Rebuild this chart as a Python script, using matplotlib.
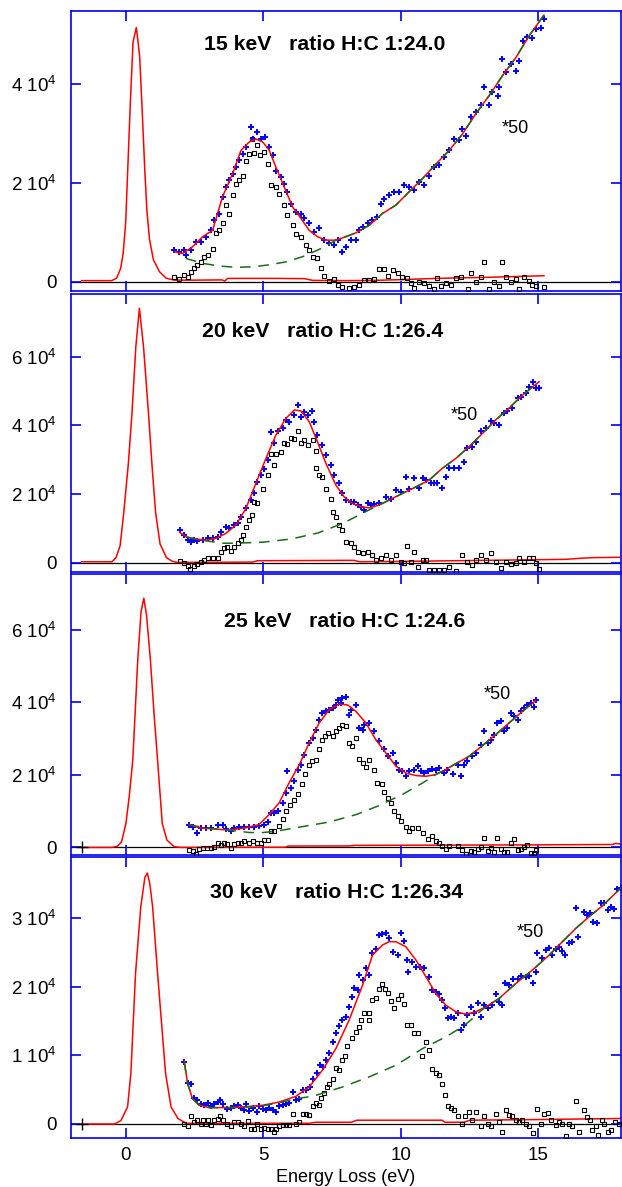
import numpy as np
import matplotlib
matplotlib.use('Agg')
import matplotlib.pyplot as plt
from matplotlib.ticker import FuncFormatter

plt.rcParams['font.family'] = ['Liberation Sans', 'DejaVu Sans']
plt.rcParams['mathtext.fontset'] = 'custom'
plt.rcParams['mathtext.rm'] = 'Liberation Sans'
plt.rcParams['mathtext.it'] = 'Liberation Sans:italic'
plt.rcParams['mathtext.bf'] = 'Liberation Sans:bold'

# ---------------- 15 keV ----------------
p15_title = '15 keV   ratio H:C 1:24.0'
p15_blue_x = [1.77, 1.95, 2.13, 2.19, 2.37, 2.55, 2.74, 2.92, 3.1, 3.22, 3.4, 3.52, 3.64, 3.77, 3.89, 4.0,
              4.13, 4.27, 4.39, 4.55, 4.61, 4.79, 4.92, 5.07, 5.22, 5.34, 5.46, 5.64, 5.76, 5.88, 6.0, 6.19,
              6.37, 6.49, 6.67, 6.85, 7.03, 7.22, 7.4, 7.58, 7.7, 7.86, 8.0, 8.18, 8.37, 8.49, 8.61, 8.79,
              8.97, 9.15, 9.27, 9.39, 9.58, 9.76, 9.94, 10.12, 10.3, 10.48, 10.67, 10.85, 11.03, 11.21,
              11.39, 11.58, 11.76, 11.94, 12.12, 12.24, 12.36, 12.54, 12.73, 12.91, 13.03, 13.21, 13.33,
              13.52, 13.57, 13.67, 13.81, 13.99, 14.18, 14.3, 14.44, 14.6, 14.78, 14.9, 15.08, 15.2]
p15_blue_y = [6500, 6060, 6400, 5400, 6500, 8080, 8080, 9100, 10400, 12450, 13800, 17160, 19200, 20500,
              21900, 23200, 24600, 25900, 27250, 31400, 28900, 30300, 28900, 29300, 27250, 25600, 22500,
              21200, 19850, 18200, 15800, 14100, 13800, 12800, 11800, 10100, 10800, 8400, 7740, 7400, 8400,
              6060, 7070, 8400, 8400, 10400, 11100, 11800, 12450, 13100, 15800, 16800, 17500, 18200, 18200,
              19500, 19200, 18500, 20200, 19500, 21500, 23200, 23550, 25200, 26600, 28900, 28600, 31000,
              29600, 33300, 34300, 35700, 39500, 35700, 38400, 37700, 39400, 45100, 42400, 44100, 42700,
              44800, 48800, 49500, 49300, 51100, 51300, 53200]
p15_fit_x = [1.77, 2.07, 2.43, 2.8, 3.16, 3.52, 3.89, 4.19, 4.49, 4.73, 4.98, 5.22, 5.46, 5.76, 6.07, 6.37,
             6.67, 6.97, 7.28, 7.64, 8.0, 8.37, 8.85, 9.33, 9.82, 10.3, 10.79, 11.27, 11.76, 12.24, 12.72,
             13.21, 13.69, 14.18, 14.66, 15.2]
p15_fit_y = [6060, 5700, 7070, 9100, 10400, 17200, 21900, 26600, 28300, 28900, 28300, 26600, 23200, 19200,
             15100, 12800, 10400, 9100, 8400, 8400, 9100, 9900, 11400, 13800, 15500, 18200, 20900, 23800,
             26600, 29900, 34000, 37700, 41700, 45400, 49800, 54000]
p15_bg_x = [2.19, 2.8, 3.4, 4.01, 4.61, 5.22, 5.82, 6.43, 7.1, 7.64, 8.0, 8.37, 8.85, 9.33, 9.82, 10.3,
            10.79, 11.27, 11.76, 12.24, 12.72, 13.21, 13.69, 14.18, 14.66, 15.2]
p15_bg_y = [4700, 3700, 3160, 2900, 3000, 3400, 4000, 5050, 6700, 8400, 9100, 9900, 11400, 13800, 15500,
            18200, 20900, 23800, 26600, 29900, 34000, 37700, 41700, 45400, 49800, 54000]
p15_diff_x = [1.77, 1.95, 2.13, 2.25, 2.37, 2.49, 2.61, 2.74, 2.86, 2.98, 3.16, 3.28, 3.4, 3.52, 3.64, 3.77,
              3.89, 4.01, 4.13, 4.27, 4.39, 4.49, 4.59, 4.67, 4.79, 4.88, 5.04, 5.16, 5.28, 5.46, 5.58,
              5.76, 5.88, 6.07, 6.19, 6.37, 6.55, 6.67, 6.79, 6.97, 7.1, 7.22, 7.4, 7.58, 7.7, 7.88, 8.12,
              8.3, 8.49, 8.67, 8.85, 9.03, 9.22, 9.4, 9.52, 9.7, 9.88, 10.06, 10.24, 10.36, 10.48, 10.67,
              10.85, 11.03, 11.21, 11.33, 11.45, 11.63, 11.82, 12.0, 12.18, 12.43, 12.54, 12.73, 12.91,
              13.03, 13.21, 13.39, 13.57, 13.67, 13.81, 13.99, 14.18, 14.3, 14.48, 14.66, 14.78, 14.9, 15.2]
p15_diff_y = [1000, 470, 1350, 1000, 2000, 2700, 3400, 4000, 5000, 5400, 6700, 9760, 10400, 11800, 15500,
              13700, 17500, 19850, 20500, 21500, 24400, 25900, 28900, 26000, 27600, 25600, 26200, 23900,
              19500, 19200, 17800, 15500, 13500, 11400, 9600, 9100, 7400, 6500, 4900, 4700, 2700, 1150,
              200, 470, -670, -1000, -1350, -1150, -670, 340, 340, 470, 2500, 2500, 1150, 2350, 1700, 1000,
              670, -200, -1350, 0, -340, -870, -1550, 670, -870, -340, -670, 670, 1000, -1550, 1700, 0,
              1000, 4000, -1550, 0, -870, 4000, 1000, 0, 470, -1550, 1000, 200, -670, -870, -1000]
p15_red_x = [-1.6, -0.51, -0.33, -0.18, -0.09, 0.0, 0.08, 0.18, 0.27, 0.39, 0.51, 0.6, 0.69, 0.77, 0.87,
             1.01, 1.23, 1.47, 1.77, 2.5, 3.5, 3.6, 3.7, 4.5, 5.5, 6.5, 6.8, 8.0, 9.0, 10.0, 11.0, 12.0,
             13.0, 14.0, 15.2]
p15_red_y = [200, 200, 690, 2700, 5750, 11800, 23300, 37500, 48600, 51500, 45600, 34800, 23300, 14500,
             8450, 4400, 2000, 690, 300, 300, 350, 100, 650, 650, 650, 600, 250, 200, 250, 400, 600, 750,
             850, 1000, 1200]
p15_note = (14.15, 30960)

# ---------------- 20 keV ----------------
p20_title = '20 keV   ratio H:C 1:26.4'
p20_blue_x = [1.97, 2.13, 2.25, 2.37, 2.49, 2.61, 2.8, 2.98, 3.16, 3.34, 3.46, 3.64, 3.77, 3.95, 4.07, 4.19,
              4.37, 4.55, 4.67, 4.79, 4.92, 5.04, 5.16, 5.28, 5.4, 5.52, 5.7, 5.82, 5.94, 6.13, 6.25, 6.37,
              6.49, 6.61, 6.77, 6.85, 6.97, 7.15, 7.28, 7.46, 7.58, 7.76, 7.88, 8.0, 8.18, 8.3, 8.43, 8.55,
              8.67, 8.79, 8.91, 9.03, 9.21, 9.46, 9.64, 9.82, 10.0, 10.18, 10.3, 10.48, 10.67, 10.79, 10.91,
              11.09, 11.21, 11.33, 11.51, 11.63, 11.76, 11.94, 12.12, 12.3, 12.42, 12.6, 12.72, 12.91,
              13.09, 13.27, 13.39, 13.57, 13.75, 13.87, 14.05, 14.24, 14.36, 14.54, 14.66, 14.81, 14.9, 15.02]
p20_blue_y = [9500, 8060, 6600, 6100, 6600, 6300, 6600, 7300, 7300, 7570, 8840, 10500, 10000, 11000, 11500,
              13400, 16000, 18250, 20200, 23600, 25500, 27300, 29900, 38200, 34800, 38400, 39100, 41600,
              41100, 43000, 45900, 42500, 44000, 43000, 44200, 41100, 37200, 34300, 31400, 28500, 25500,
              23100, 20200, 18250, 17800, 17800, 16800, 16300, 15300, 17300, 16800, 17000, 17300, 19200,
              18700, 21200, 20700, 25000, 21500, 24600, 21800, 24600, 24100, 23100, 23100, 23100, 21800,
              25000, 27500, 27500, 27500, 29400, 33300, 33800, 35200, 38400, 39100, 41300, 40600, 40100,
              43500, 44200, 45000, 47900, 48400, 49300, 51300, 52500, 51000, 50800]
p20_fit_x = [1.97, 2.19, 2.55, 2.92, 3.28, 3.64, 4.01, 4.37, 4.73, 5.1, 5.46, 5.82, 6.13, 6.37, 6.67, 6.97,
             7.28, 7.64, 7.94, 8.24, 8.55, 8.85, 9.21, 9.58, 10.06, 10.55, 11.03, 11.51, 12.0, 12.48, 12.97,
             13.45, 13.93, 14.42, 15.02]
p20_fit_y = [8840, 7570, 6900, 6600, 7100, 8540, 11000, 15800, 23100, 30400, 37200, 42000, 44500, 44200,
             41100, 35200, 28900, 22600, 19200, 17300, 16300, 16000, 16800, 18300, 20200, 22100, 24100,
             27500, 30400, 33800, 37700, 41600, 45000, 48800, 52700]
p20_bg_x = [2.2, 2.6, 3.0, 3.5, 4.0, 5.0, 6.0, 7.0, 7.9, 8.7, 9.2, 9.6, 10.06, 10.55, 11.03, 11.51, 12.0,
            12.48, 12.97, 13.45, 13.93, 14.42, 15.02]
p20_bg_y = [7500, 6800, 6300, 5700, 5700, 6000, 6900, 8700, 11500, 14800, 16800, 18300, 20200, 22100, 24100,
            27500, 30400, 33800, 37700, 41600, 45000, 48800, 52700]
p20_diff_x = [1.97, 2.13, 2.25, 2.34, 2.49, 2.61, 2.74, 2.86, 3.01, 3.16, 3.34, 3.46, 3.58, 3.7, 3.83, 3.95,
              4.07, 4.19, 4.27, 4.39, 4.49, 4.59, 4.67, 4.79, 4.98, 5.16, 5.28, 5.4, 5.48, 5.64, 5.76, 5.88,
              6.0, 6.13, 6.25, 6.37, 6.49, 6.61, 6.79, 6.91, 6.93, 7.03, 7.15, 7.28, 7.46, 7.52, 7.64, 7.76,
              7.86, 8.0, 8.18, 8.3, 8.43, 8.61, 8.79, 8.97, 9.09, 9.27, 9.46, 9.64, 9.82, 10.0, 10.12, 10.21,
              10.36, 10.48, 10.61, 10.79, 10.91, 11.03, 11.21, 11.39, 11.57, 11.76, 12.0, 12.24, 12.42,
              12.6, 12.72, 12.91, 13.09, 13.27, 13.45, 13.63, 13.81, 13.99, 14.18, 14.3, 14.48, 14.66,
              14.81, 14.9, 15.02]
p20_diff_y = [580, -200, -870, -1850, -870, -490, 290, 780, 1260, 1260, 1260, 3200, 4200, 4660, 3400, 4660,
              5630, 6600, 8060, 10500, 12400, 13900, 17800, 17300, 21500, 25500, 31600, 28600, 31800, 32300,
              35000, 34500, 36400, 36000, 38400, 34800, 35700, 34300, 35700, 32500, 27500, 25500, 25000,
              21600, 18700, 14900, 13400, 11000, 9500, 6100, 5900, 4660, 3200, 2700, 3200, 2230, 780, 1260,
              2230, 780, 2230, 290, -200, 4950, 290, 3200, -1170, 780, 780, -2140, -2140, -2140, -2140,
              -1170, -2430, 2230, 290, -680, 780, 2230, 780, 2700, 290, -1650, 290, -490, -200, 1260, 290,
              1260, 1260, -200, -1850]
p20_red_x = [-1.6, -0.5, -0.35, -0.2, -0.07, 0.1, 0.23, 0.37, 0.5, 0.65, 0.83, 0.97, 1.09, 1.25, 1.48, 1.7,
             1.9, 4.6, 4.8, 8.3, 8.5, 10.0, 12.0, 14.0, 15.0, 16.0, 16.5, 17.0, 18.0]
p20_red_y = [300, 300, 1500, 5000, 14500, 29000, 43500, 62900, 74100, 62900, 43500, 27000, 14500, 5500,
             1500, 400, 100, 200, 600, 700, 300, 400, 600, 800, 900, 1000, 1300, 1500, 1600]
p20_note = (12.3, 42800)

# ---------------- 25 keV ----------------
p25_title = '25 keV   ratio H:C 1:24.6'
p25_blue_x = [2.31, 2.43, 2.61, 2.74, 2.92, 3.1, 3.34, 3.52, 3.64, 3.83, 3.95, 4.13, 4.31, 4.49, 4.67, 4.85,
              5.04, 5.16, 5.28, 5.4, 5.52, 5.7, 5.82, 5.88, 6.0, 6.13, 6.25, 6.37, 6.49, 6.67, 6.79, 6.91,
              7.03, 7.15, 7.28, 7.4, 7.52, 7.64, 7.7, 7.82, 7.88, 8.0, 8.12, 8.18, 8.37, 8.49, 8.61, 8.67,
              8.85, 9.03, 9.21, 9.39, 9.52, 9.7, 9.82, 9.94, 10.06, 10.18, 10.3, 10.48, 10.61, 10.73, 10.85,
              10.97, 11.15, 11.27, 11.39, 11.57, 11.69, 11.88, 12.06, 12.18, 12.3, 12.42, 12.6, 12.72,
              12.91, 13.03, 13.15, 13.27, 13.39, 13.51, 13.63, 13.75, 13.87, 13.99, 14.11, 14.24, 14.36,
              14.48, 14.6, 14.72, 14.84, 14.9]
p25_blue_y = [6050, 5700, 4030, 5400, 5400, 5400, 6050, 6300, 5100, 4500, 5400, 5700, 5700, 5700, 5700,
              5900, 6300, 7000, 9350, 9350, 10000, 12300, 15000, 21000, 16400, 18250, 21450, 22800, 25600,
              28800, 30200, 32500, 35200, 37000, 37500, 38000, 38400, 39300, 40700, 39800, 41200, 41600,
              36600, 38000, 39300, 32900, 32500, 33800, 34300, 32000, 29250, 27000, 25100, 26000, 23300,
              21450, 21000, 19600, 21000, 21450, 22400, 21000, 20500, 21000, 21600, 21450, 21900, 20500,
              21450, 20100, 22600, 19600, 22800, 23750, 25100, 26000, 28300, 32000, 28800, 29700, 31100,
              34300, 34800, 32000, 32900, 37000, 36100, 35200, 37500, 38400, 39300, 39800, 38700, 40700]
p25_fit_x = [2.31, 2.68, 3.16, 3.77, 4.37, 4.85, 5.22, 5.58, 5.94, 6.31, 6.67, 7.03, 7.4, 7.76, 8.06, 8.37,
             8.73, 9.09, 9.46, 9.82, 10.18, 10.55, 10.91, 11.27, 11.63, 12.0, 12.48, 12.97, 13.45, 13.93,
             14.42, 14.9]
p25_fit_y = [6300, 5400, 5100, 4770, 5400, 6300, 9100, 12300, 17800, 22800, 28800, 34300, 38000, 39500,
             39300, 37500, 34300, 29700, 26000, 22400, 20500, 19800, 19600, 20100, 21450, 23100, 25100,
             28100, 31100, 34300, 37500, 40500]
p25_bg_x = [2.3, 3.0, 3.7, 4.5, 5.0, 5.5, 6.4, 7.4, 8.4, 9.2, 10.06, 10.8, 11.27, 11.63, 12.0, 12.48,
            12.97, 13.45, 13.93, 14.42, 14.9]
p25_bg_y = [6200, 5300, 4800, 4100, 4100, 4500, 5700, 7000, 9100, 11500, 14600, 17800, 20100, 21450, 23100,
            25100, 28100, 31100, 34300, 37500, 40500]
p25_diff_x = [2.31, 2.43, 2.55, 2.68, 2.8, 2.94, 3.1, 3.22, 3.34, 3.46, 3.58, 3.7, 3.83, 3.95, 4.07, 4.19,
              4.31, 4.49, 4.61, 4.76, 4.92, 5.04, 5.16, 5.28, 5.4, 5.58, 5.73, 5.82, 5.97, 6.13, 6.25, 6.4,
              6.53, 6.67, 6.77, 6.91, 7.01, 7.13, 7.25, 7.37, 7.52, 7.64, 7.76, 7.88, 8.0, 8.12, 8.24, 8.37,
              8.49, 8.61, 8.73, 8.85, 9.03, 9.15, 9.31, 9.39, 9.52, 9.64, 9.76, 9.88, 10.0, 10.18, 10.3,
              10.42, 10.61, 10.79, 10.97, 11.15, 11.27, 11.37, 11.51, 11.63, 11.76, 12.06, 12.24, 12.36,
              12.54, 12.66, 12.79, 12.91, 13.03, 13.15, 13.27, 13.39, 13.51, 13.63, 13.75, 13.87, 13.99,
              14.11, 14.24, 14.36, 14.48, 14.6, 14.72, 14.84, 14.9]
p25_diff_y = [-730, -1000, -1900, -370, -90, -90, -90, 180, 1280, 550, 1280, 825, -90, 825, 1280, 1280, 1740,
              1280, 1740, 1280, 1280, 2000, 2000, 4500, 4500, 5870, 7900, 10000, 11550, 13000, 14600, 17600,
              20100, 22800, 23750, 24000, 27100, 29700, 30600, 31500, 30600, 32000, 32900, 33800, 33600,
              28800, 27900, 30200, 24400, 23300, 22200, 24200, 21300, 17800, 17600, 15200, 13700, 12300,
              10000, 8600, 7200, 5700, 4500, 5400, 5400, 4030, 2200, 3100, 1740, 1280, 370, -550, 370, 370,
              -730, -1900, -1000, -1280, -550, 180, 2650, -1000, -90, -1280, 2650, -550, -1280, -1280, 1280,
              2200, -730, -370, 180, 550, -1460, -1650, -730]
p25_red_x = [-1.6, -0.5, -0.3, -0.15, 0.01, 0.13, 0.26, 0.44, 0.56, 0.66, 0.76, 0.9, 1.03, 1.16, 1.33, 1.5,
             1.76, 2.0, 5.8, 5.9, 8.1, 8.3, 15.0, 17.7, 17.8, 18.0]
p25_red_y = [0, 0, 300, 1500, 6600, 14000, 24100, 51700, 65000, 68700, 64000, 51700, 37000, 24100, 6600,
             2000, 200, 0, 50, 370, 400, 550, 700, 800, 1100, 900]
p25_note = (13.51, 42100)

# ---------------- 30 keV ----------------
p30_title = '30 keV   ratio H:C 1:26.34'
p30_blue_x = [2.13, 2.25, 2.37, 2.49, 2.61, 2.74, 2.86, 2.98, 3.1, 3.22, 3.34, 3.43, 3.55, 3.7, 3.83, 3.95,
              4.07, 4.19, 4.31, 4.39, 4.49, 4.61, 4.76, 4.83, 4.98, 5.1, 5.22, 5.34, 5.46, 5.58, 5.7, 5.82,
              5.94, 6.07, 6.19, 6.31, 6.43, 6.57, 6.69, 6.82, 6.97, 7.06, 7.18, 7.28, 7.4, 7.52, 7.64, 7.76,
              7.88, 8.0, 8.12, 8.22, 8.31, 8.43, 8.49, 8.61, 8.73, 8.85, 8.97, 9.09, 9.21, 9.33, 9.46, 9.58,
              9.72, 9.88, 10.0, 10.12, 10.24, 10.26, 10.4, 10.55, 10.69, 10.85, 11.03, 11.15, 11.27, 11.39,
              11.49, 11.61, 11.7, 11.82, 11.94, 12.06, 12.18, 12.3, 12.42, 12.54, 12.66, 12.79, 12.91,
              13.03, 13.15, 13.33, 13.45, 13.57, 13.69, 13.79, 13.93, 14.08, 14.24, 14.36, 14.54, 14.66,
              14.81, 14.9, 14.96, 15.12, 15.27, 15.39, 15.51, 15.63, 15.75, 15.87, 15.97, 16.11, 16.23,
              16.36, 16.45, 16.66, 16.78, 16.86, 16.99, 17.11, 17.26, 17.39, 17.51, 17.63, 17.75, 17.87,
              17.99]
p30_blue_y = [9060, 6000, 5900, 3850, 3460, 2970, 2730, 3070, 2580, 2970, 3210, 3560, 2870, 2240, 2390, 2580,
              2730, 2390, 2000, 2870, 1900, 2390, 1750, 2580, 2240, 2000, 2390, 2090, 1750, 2580, 2730, 2970,
              3070, 4680, 3560, 3700, 4920, 5020, 5400, 6620, 7450, 8570, 8330, 9400, 10370, 11980, 13200,
              14270, 15150, 15630, 17100, 18550, 19770, 19530, 21720, 21000, 22700, 21720, 24900, 25500,
              27560, 27700, 27800, 27080, 25130, 24640, 27800, 26740, 23900, 22200, 23670, 22940, 22940,
              22700, 21480, 19530, 19290, 19000, 18070, 16850, 15390, 15630, 15390, 16120, 13680, 14420,
              15880, 17100, 16220, 17580, 15630, 17340, 16850, 17340, 19000, 17820, 17340, 20500, 20260,
              21090, 21090, 21570, 21480, 21570, 20600, 22200, 24890, 24150, 25370, 25600, 24640, 25470,
              25860, 25280, 24640, 26440, 26590, 31460, 27320, 30940, 30480, 30730, 29510, 29270, 32190,
              32300, 31220, 31700, 31300, 34240, 34400]
p30_fit_x = [2.13, 2.25, 2.43, 2.68, 3.04, 3.52, 4.25, 4.98, 5.58, 6.19, 6.67, 7.15, 7.64, 8.12, 8.61, 8.97,
             9.33, 9.58, 9.82, 10.18, 10.55, 10.91, 11.27, 11.63, 12.0, 12.36, 12.72, 13.09, 13.57, 14.18,
             14.78, 15.39, 15.87, 16.36, 16.84, 17.32, 17.99]
p30_fit_y = [9200, 5900, 3700, 2730, 2390, 2390, 2480, 2730, 3210, 4040, 5400, 7840, 11000, 15150, 20260,
             24640, 26100, 26590, 26590, 25860, 23900, 21480, 19040, 17340, 16360, 16020, 16360, 17090,
             18310, 20500, 22450, 24640, 26590, 28540, 30240, 31800, 34400]
p30_bg_x = [2.13, 2.25, 2.43, 2.68, 3.04, 3.52, 4.25, 4.98, 5.58, 6.2, 6.8, 7.88, 8.85, 9.82, 10.79, 11.63,
            12.24, 12.54, 12.9, 13.09, 13.57, 14.18, 14.78, 15.39, 15.87, 16.36, 16.84, 17.32, 17.99]
p30_bg_y = [9000, 6000, 3700, 2700, 2400, 2350, 2400, 2650, 3100, 3700, 4040, 5400, 6870, 8570, 11000, 12700,
            14170, 15150, 16500, 17090, 18310, 20500, 22450, 24640, 26590, 28540, 30240, 31800, 34400]
p30_diff_x = [2.13, 2.25, 2.37, 2.49, 2.61, 2.74, 2.8, 2.92, 2.98, 3.1, 3.22, 3.34, 3.43, 3.55, 3.7, 3.83,
              3.95, 4.07, 4.19, 4.31, 4.43, 4.55, 4.67, 4.79, 4.92, 5.04, 5.16, 5.28, 5.4, 5.48, 5.58, 5.7,
              5.82, 5.94, 6.07, 6.19, 6.31, 6.43, 6.55, 6.67, 6.79, 6.91, 7.01, 7.09, 7.22, 7.3, 7.4, 7.52,
              7.64, 7.76, 7.88, 7.98, 8.06, 8.24, 8.37, 8.49, 8.55, 8.67, 8.83, 8.85, 8.97, 9.09, 9.21,
              9.33, 9.43, 9.52, 9.64, 9.76, 9.88, 10.0, 10.12, 10.24, 10.36, 10.48, 10.61, 10.76, 10.91,
              11.03, 11.15, 11.27, 11.39, 11.51, 11.61, 11.7, 11.82, 11.94, 12.06, 12.22, 12.34, 12.48,
              12.58, 12.72, 12.91, 13.03, 13.15, 13.27, 13.45, 13.57, 13.69, 13.81, 13.93, 14.05, 14.18,
              14.3, 14.42, 14.54, 14.66, 14.81, 14.96, 15.08, 15.2, 15.33, 15.45, 15.63, 15.75, 15.87,
              15.99, 16.11, 16.23, 16.36, 16.48, 16.66, 16.75, 16.87, 16.96, 17.09, 17.18, 17.3, 17.39,
              17.51, 17.63, 17.78, 17.93]
p30_diff_y = [50, -340, 1120, 290, 540, 50, 630, 50, 540, -190, 540, 780, 1120, 540, 50, -340, 290, 290, 50,
              -340, 440, -680, -680, 50, -680, -540, -680, -680, -1170, -680, -340, -190, -190, -190, 1410,
              50, 290, 1410, 1410, 1270, 2580, 3070, 2730, 3850, 4530, 5400, 5900, 6620, 8230, 7840, 9300,
              9890, 11350, 12470, 13440, 14170, 15150, 16220, 15150, 16120, 18070, 18310, 19630, 20360,
              19630, 19040, 17970, 16850, 18160, 18800, 17480, 14420, 14420, 13300, 13200, 9890, 11980,
              10760, 8080, 7450, 7110, 5800, 4190, 2580, 2390, 2000, 1120, 50, 1120, 1750, 540, 1750, -340,
              1120, 50, -340, 1410, 290, -1170, 2090, 1270, 1120, 540, 290, 540, 50, -340, -1320, 2240, 50,
              1510, 1610, 540, -190, 290, 50, -1800, 50, -340, 3360, -1170, 2090, 1020, 540, -930, -340,
              -1660, 630, 50, -1170, -830, 290, 50]
p30_red_x = [-1.6, -0.4, -0.17, 0.07, 0.19, 0.36, 0.55, 0.7, 0.79, 0.88, 0.98, 1.16, 1.45, 1.65, 1.9, 2.2,
             6.7, 6.9, 8.2, 8.4, 11.5, 11.6, 12.3, 12.5, 15.0, 18.0]
p30_red_y = [0, 0, 500, 2500, 7400, 22000, 31700, 36000, 36600, 35000, 31700, 22000, 7400, 2500, 800, 100,
             100, 250, 250, 550, 550, 250, 250, 550, 650, 800]
p30_note = (14.69, 27900)

panels = [
    dict(title=p15_title, blue=(p15_blue_x, p15_blue_y), fit=(p15_fit_x, p15_fit_y), bg=(p15_bg_x, p15_bg_y),
         diff=(p15_diff_x, p15_diff_y), red=(p15_red_x, p15_red_y), note=p15_note,
         ylim=(-1900, 54900), yticks=[0, 2e4, 4e4], box=(10.7, 291.0), tpos=(0.462, 0.881), cross=False),
    dict(title=p20_title, blue=(p20_blue_x, p20_blue_y), fit=(p20_fit_x, p20_fit_y), bg=(p20_bg_x, p20_bg_y),
         diff=(p20_diff_x, p20_diff_y), red=(p20_red_x, p20_red_y), note=p20_note,
         ylim=(-2600, 78400), yticks=[0, 2e4, 4e4, 6e4], box=(293.5, 571.7), tpos=(0.458, 0.863), cross=False),
    dict(title=p25_title, blue=(p25_blue_x, p25_blue_y), fit=(p25_fit_x, p25_fit_y), bg=(p25_bg_x, p25_bg_y),
         diff=(p25_diff_x, p25_diff_y), red=(p25_red_x, p25_red_y), note=p25_note,
         ylim=(-2100, 75300), yticks=[0, 2e4, 4e4, 6e4], box=(574.3, 855.0), tpos=(0.497, 0.831), cross=True),
    dict(title=p30_title, blue=(p30_blue_x, p30_blue_y), fit=(p30_fit_x, p30_fit_y), bg=(p30_bg_x, p30_bg_y),
         diff=(p30_diff_x, p30_diff_y), red=(p30_red_x, p30_red_y), note=p30_note,
         ylim=(-2000, 38900), yticks=[0, 1e4, 2e4, 3e4], box=(857.3, 1137.7), tpos=(0.484, 0.874), cross=True),
]


def ylab(v, pos):
    if v == 0:
        return '0'
    return '%d 10$^{4}$' % round(v / 1e4)


W, H = 622, 1187
fig = plt.figure(figsize=(W / 100, H / 100), dpi=100)
left, right = 70.6, 621.0
axblue = '#0000f0'

for i, p in enumerate(panels):
    top, bot = p['box']
    ax = fig.add_axes([left / W, 1 - bot / H, (right - left) / W, (bot - top) / H])
    ax.set_xlim(-2, 18)
    ax.set_ylim(*p['ylim'])

    ax.axhline(0, color='black', lw=0.9, zorder=1)
    ax.plot(*p['red'], color='#ff0000', lw=1.1, zorder=2)
    ax.plot(*p['diff'], ls='none', marker='s', ms=3.4, mfc='none', mec='black', mew=0.8, zorder=3)
    ax.plot(*p['blue'], ls='none', marker='+', ms=4.5, mew=1.4, color='#0000ff', zorder=4)
    ax.plot(*p['fit'], color='#ff0000', lw=1.1, zorder=5)
    ax.plot(*p['bg'], color='#1a6b1a', lw=1.1, ls=(0, (7, 5)), zorder=6)
    if p['cross']:
        ax.plot([-1.6], [0], marker='+', ms=9, mew=1.0, color='black', zorder=7)

    ax.text(p['tpos'][0], p['tpos'][1], p['title'], transform=ax.transAxes, ha='center', va='center',
            fontsize=15.3, fontweight='bold')
    ax.text(p['note'][0], p['note'][1], '*50', ha='center', va='center', fontsize=13)

    for s in ax.spines.values():
        s.set_color(axblue)
        s.set_linewidth(1.2)
    ax.set_xticks([0, 5, 10, 15])
    ax.set_yticks(p['yticks'])
    ax.yaxis.set_major_formatter(FuncFormatter(ylab))
    ax.tick_params(axis='both', which='major', direction='in', color=axblue, width=1.2, length=7.5,
                   top=True, right=True, labelsize=13.5)
    ax.tick_params(axis='y', pad=10)
    if i < 3:
        ax.tick_params(axis='x', labelbottom=False)
    else:
        ax.tick_params(axis='x', pad=7, labelsize=13.5)
        ax.set_xlabel('Energy Loss (eV)', fontsize=13, labelpad=3)

fig.savefig('out.png', dpi=100)
